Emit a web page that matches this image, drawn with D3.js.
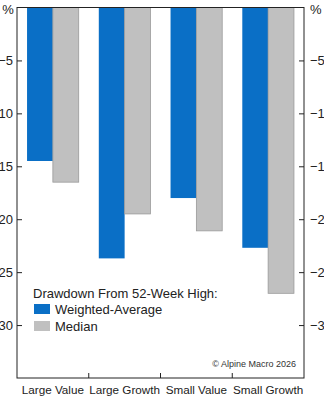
<!DOCTYPE html>
<html>
<head>
<meta charset="utf-8">
<script src="https://cdn.jsdelivr.net/npm/d3@7"></script>
<style>
  body { margin: 0; background: #fff; }
  svg { display: block; font-family: "Liberation Sans", Arial, sans-serif; }
</style>
</head>
<body>
<svg id="chart" width="324" height="400"></svg>
<script>
var categories = ['Large Value', 'Large Growth', 'Small Value', 'Small Growth'];
var weightedAvg = [-14.5, -23.7, -18.0, -22.7];
var median = [-16.5, -19.5, -21.1, -27.0];
var yTicks = [-5, -10, -15, -20, -25, -30];
var legendTitle = 'Drawdown From 52-Week High:';
var seriesNames = ['Weighted-Average', 'Median'];
var colors = ['#0a6fc6', '#c0c0c0'];

var svg = d3.select('#chart');
var plotL = 17, plotR = 304, plotT = 7.5, plotB = 378;

var x = d3.scaleBand().domain(categories).range([plotL, plotR]).paddingInner(0.28).paddingOuter(0.14);
var y = d3.scaleLinear().domain([-35, 0]).range([plotB, plotT]);

// frame
svg.append('rect')
  .attr('x', plotL).attr('y', plotT)
  .attr('width', plotR - plotL).attr('height', plotB - plotT)
  .attr('fill', 'none').attr('stroke', '#222').attr('stroke-width', 1);

// bars
var series = [weightedAvg, median];
series.forEach(function(vals, s) {
  svg.selectAll('.bar' + s)
    .data(vals)
    .enter().append('rect')
    .attr('class', 'bar' + s)
    .attr('x', function(d, i) { return x(categories[i]) + s * x.bandwidth() / 2; })
    .attr('y', y(0))
    .attr('width', x.bandwidth() / 2)
    .attr('height', function(d) { return y(d) - y(0); })
    .attr('fill', colors[s])
    .attr('stroke', s === 1 ? '#9a9a9a' : 'none')
    .attr('stroke-width', 0.8);
});

// redraw the top edge over the bars
svg.append('line')
  .attr('x1', plotL).attr('x2', plotR).attr('y1', plotT).attr('y2', plotT)
  .attr('stroke', '#222');

// y axes, ticks inward
var yl = svg.append('g').attr('transform', 'translate(' + plotL + ',0)')
  .call(d3.axisLeft(y).tickValues(yTicks).tickSize(-5).tickPadding(4).tickFormat(d3.format('d')));
var yr = svg.append('g').attr('transform', 'translate(' + plotR + ',0)')
  .call(d3.axisRight(y).tickValues(yTicks).tickSize(-5).tickPadding(6).tickFormat(d3.format('d')));
[yl, yr].forEach(function(g) {
  g.select('.domain').remove();
  g.selectAll('line').attr('stroke', '#222');
  g.selectAll('text').attr('font-size', 13).attr('fill', '#222').attr('font-family', null);
});
yl.selectAll('text').attr('x', -4);

svg.append('text').attr('x', 8).attr('y', 14).attr('text-anchor', 'middle')
  .attr('font-size', 13).attr('fill', '#222').text('%');
svg.append('text').attr('x', 310).attr('y', 14)
  .attr('font-size', 13).attr('fill', '#222').text('%');

// category boundary ticks on the bottom axis
var bounds = categories.slice(1).map(function(c) { return x(c) - x.step() * x.paddingInner() / 2; });
svg.selectAll('.xtick').data(bounds).enter().append('line')
  .attr('x1', function(d) { return d; }).attr('x2', function(d) { return d; })
  .attr('y1', plotB).attr('y2', plotB - 5)
  .attr('stroke', '#222');

svg.selectAll('.xlabel').data(categories).enter().append('text')
  .attr('x', function(c) { return x(c) + x.bandwidth() / 2; })
  .attr('y', 394)
  .attr('text-anchor', 'middle')
  .attr('font-size', 11.7).attr('fill', '#222')
  .text(function(c) { return c; });

// legend
var lg = svg.append('g');
lg.append('text').attr('x', 33).attr('y', 298).attr('font-size', 13).attr('fill', '#222').text(legendTitle);
seriesNames.forEach(function(n, i) {
  lg.append('rect').attr('x', 34).attr('y', 304 + i * 17).attr('width', 16).attr('height', 10)
    .attr('fill', colors[i]);
  lg.append('text').attr('x', 55).attr('y', 314 + i * 17).attr('font-size', 13).attr('fill', '#222').text(n);
});

svg.append('text').attr('x', 296).attr('y', 367).attr('text-anchor', 'end')
  .attr('font-size', 9).attr('fill', '#333').text('\u00a9 Alpine Macro 2026');
</script>
</body>
</html>
